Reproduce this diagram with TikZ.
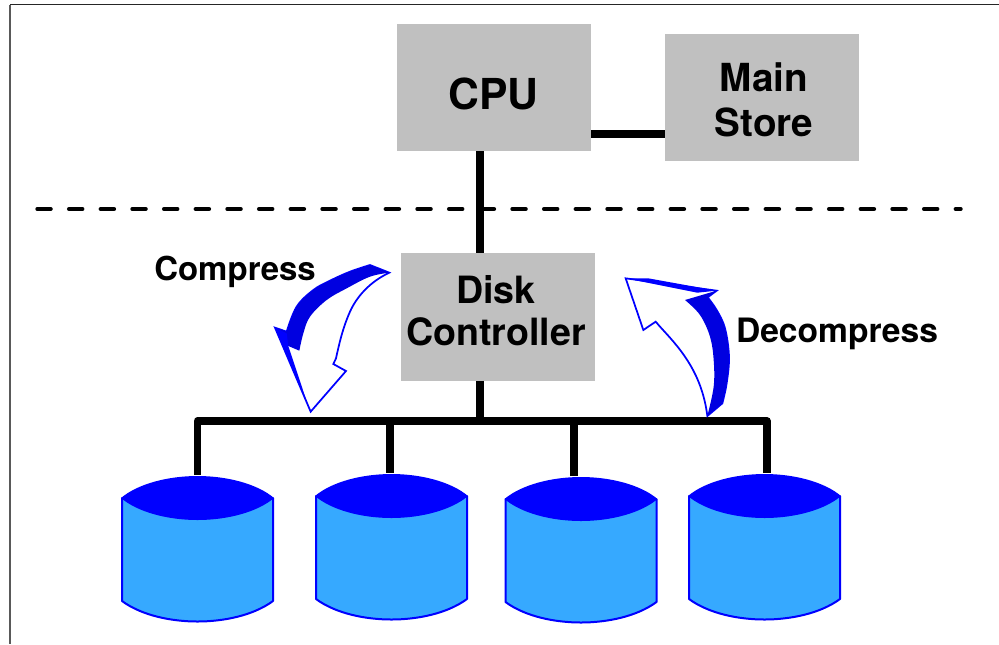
\documentclass[tikz,border=0pt]{standalone}
\usepackage{fontspec}
\setmainfont{TeX Gyre Heros}
\definecolor{boxgray}{HTML}{C0C0C0}
\definecolor{diskblue}{HTML}{36A9FF}
\definecolor{pureblue}{HTML}{0000FF}
\definecolor{bandblue}{HTML}{0000E0}
\tikzset{
  px/.style={x=0.75pt,y=-0.75pt},
  graybox/.style={fill=boxgray,draw=none,inner sep=0pt,minimum width=145.5pt,minimum height=95.5pt},
  wire/.style={line width=5.5pt,line cap=butt,line join=round,black},
  diskanchor/.style={inner sep=0pt,minimum width=113pt,minimum height=109.5pt},
  label/.style={inner sep=0pt,font=\bfseries},
  disk/.pic={
    \draw[draw=pureblue,fill=diskblue,line width=1.5pt,line join=round,px]
      (-75.5,-50) -- (-75.5,53)
      .. controls (-55,68) and (-25,73.5) .. (0,73.5)
      .. controls (25,73.5) and (55,68) .. (75.5,53) -- (75.5,-50) -- cycle;
    \fill[pureblue,px] (-76.5,-50)
      .. controls (-60,-64) and (-30,-72) .. (0,-72)
      .. controls (30,-72) and (60,-64) .. (76.5,-50)
      .. controls (60,-36) and (30,-28) .. (0,-28)
      .. controls (-30,-28) and (-60,-36) .. (-76.5,-50) -- cycle;
  }
}
\begin{document}
\begin{tikzpicture}[px]
\useasboundingbox (0,0) rectangle (999,644);
% page frame
\coordinate (frameTL) at (10,4.5);
\coordinate (frameTR) at (999,4.5);
\coordinate (frameBL) at (10,644);
\draw[line width=1.1pt,black!85] (frameTR) -- (frameTL);
\draw[line width=1.1pt,black!65] (frameTL) -- (frameBL);
% dashed separator
\coordinate (dashL) at (37.3,209);
\coordinate (dashR) at (960.7,209);
% boxes
\node[graybox] (cpu) at (494,87.5) {};
\node[graybox] (store) at (762,97.5) {};
\node[graybox] (ctl) at (498,317) {};
% disks anchors
\node[diskanchor] (d1) at (197.5,548) {};
\node[diskanchor] (d2) at (391.5,546) {};
\node[diskanchor] (d3) at (581,549) {};
\node[diskanchor] (d4) at (764.5,546) {};
% bus coordinates
\coordinate (trunk) at (480,421);
\coordinate (busL) at (197.5,421);
\coordinate (busR) at (767,421);
\coordinate (tap2) at (390,421);
\coordinate (tap3) at (574,421);
% wires
\draw[wire] (store.west |- 0,134) -- (cpu.east |- 0,134);
\draw[wire] (trunk |- cpu.south) -- (trunk |- ctl.north);
\draw[wire] (trunk |- ctl.south) -- (trunk);
\draw[wire] (busL |- d1.north) -- (busL) -- (busR) -- (busR |- d4.north);
\draw[wire] (tap2) -- (tap2 |- d2.north);
\draw[wire] (tap3) -- (tap3 |- d3.north);
\draw[line width=3pt,line cap=round,black,dash pattern=on 10.1pt off 13.65pt] (dashL) -- (dashR);
% box texts
\node[label,font=\fontsize{32}{34}\bfseries\selectfont] (cputext) at (493.5,94) {CPU};
\node[label,font=\fontsize{29}{34}\bfseries\selectfont,align=center] (storetext) at (764,100) {Main\\Store};
\node[label,font=\fontsize{28.2}{31.5}\bfseries\selectfont,align=center] (ctltext) at (496,311) {Disk\\Controller};
% disks
\pic at (d1) {disk};
\pic at (d2) {disk};
\pic at (d3) {disk};
\pic at (d4) {disk};
% compress arrow
\begin{scope}[shift={(195pt,-187.5pt)},x=0.25pt,y=-0.25pt]
  \filldraw[fill=white,draw=pureblue,line width=1.3pt,line join=miter]
    (388,68) .. controls (330,95) and (290,140) .. (270,185)
    .. controls (250,230) and (240,270) .. (228,325)
    -- (220,342) -- (258,363) -- (152,485) -- (45,233) -- (80,245)
    -- plot[smooth,tension=.6] coordinates {(80,245) (110,170) (160,120) (210,92) (270,65) (330,45)}
    -- cycle;
  \fill[bandblue]
    (45,233) -- (80,245)
    -- plot[smooth,tension=.6] coordinates {(80,245) (110,170) (160,120) (210,92) (270,65) (330,45)}
    -- (388,68)
    -- plot[smooth,tension=.6] coordinates {(388,68) (330,80) (260,115) (200,150) (150,200) (130,250) (118,302)}
    -- (85,288) -- cycle;
  \fill[pureblue] (45,233) -- (152,485) -- (142,460) -- (85,288) -- (80,250) -- cycle;
\end{scope}
% decompress arrow
\begin{scope}[shift={(457.5pt,-195pt)},x=0.25pt,y=-0.25pt]
  \filldraw[fill=white,draw=pureblue,line width=1.3pt,line join=miter]
    (47,55) -- (100,210) -- (137,185) -- (150,200)
    .. controls (200,255) and (275,330) .. (292,468)
    -- (337,430)
    -- plot[smooth,tension=.6] coordinates {(337,430) (350,370) (357,290) (345,205) (320,150) (293,112)}
    -- (320,92) -- cycle;
  \fill[bandblue]
    (292,468) -- (337,430)
    -- plot[smooth,tension=.6] coordinates {(337,430) (350,370) (357,290) (345,205) (320,150) (293,112)}
    -- (320,92) -- (225,120)
    -- plot[smooth,tension=.6] coordinates {(225,120) (270,165) (300,230) (311,300) (311,380) (292,468)}
    -- cycle;
  \fill[pureblue] (47,55) -- (115,55) -- (320,92) -- (262,98) -- cycle;
\end{scope}
% labels
\node[label,font=\fontsize{24.7}{28}\bfseries\selectfont,anchor=base] (compress) at (235,280) {Compress};
\node[label,font=\fontsize{25.2}{28}\bfseries\selectfont,anchor=base] (decompress) at (837,342) {Decompress};
\end{tikzpicture}
\end{document}
